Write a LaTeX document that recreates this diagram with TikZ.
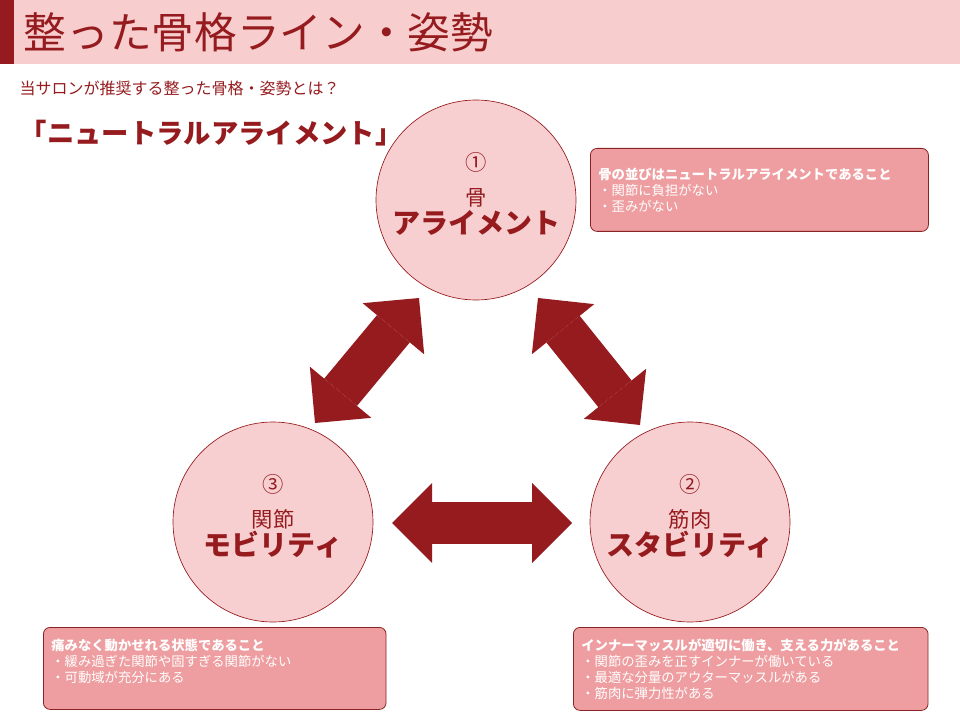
\documentclass[tikz,border=0pt]{standalone}
\usepackage{fontspec}
\setmainfont{Noto Sans CJK JP}
\usetikzlibrary{arrows.meta}
\definecolor{darkred}{HTML}{951B1E}
\definecolor{headpink}{HTML}{F8CDCE}
\definecolor{circpink}{HTML}{F8CFD0}
\definecolor{boxpink}{HTML}{EE9EA0}
\definecolor{boxline}{HTML}{8A2424}

\begin{document}
\begin{tikzpicture}[x=0.75pt,y=-0.75pt,
  circ/.style={circle,draw=darkred,line width=0.5pt,fill=circpink,minimum size=150pt,
    inner sep=0pt,align=center,text=darkred,text depth=11pt,font=\fontsize{16pt}{21pt}\selectfont},
  infobox/.style={draw=boxline,line width=0.6pt,fill=boxpink,rounded corners=5pt,
    anchor=north west,align=left,text=white,inner xsep=6pt,inner ysep=0pt,
    font=\fontsize{10pt}{12pt}\selectfont},
  bigarrow/.style={draw=darkred,line width=32pt,
    {Triangle[length=30pt,width=60pt,line width=0pt]}-{Triangle[length=30pt,width=60pt,line width=0pt]}}]
  \useasboundingbox (0,0) rectangle (960,720);
  % header
  \fill[headpink] (0,0) rectangle (960,64);
  \fill[darkred] (0,0) rectangle (14,64);
  \node[anchor=west,text=darkred,font=\fontsize{32pt}{38pt}\selectfont] (title) at (19,32) {整った骨格ライン・姿勢};
  \node[anchor=west,text=darkred,font=\fontsize{12pt}{14pt}\selectfont] (sub) at (15,88) {当サロンが推奨する整った骨格・姿勢とは？};
  \node[anchor=west,text=darkred,font=\fontsize{20.5pt}{24pt}\selectfont\bfseries] (neutral) at (15,133) {「ニュートラルアライメント」};
  % circles
  \node[circ] (bone) at (476,200) {①\\[5pt]骨\\{\fontsize{21pt}{23pt}\selectfont\bfseries アライメント}};
  \node[circ] (muscle) at (690,522) {②\\[5pt]筋肉\\{\fontsize{21pt}{23pt}\selectfont\bfseries スタビリティ}};
  \node[circ] (joint) at (273,522) {③\\[5pt]関節\\{\fontsize{21pt}{23pt}\selectfont\bfseries モビリティ}};
  % arrows
  \coordinate (a1) at (315,423);
  \coordinate (a2) at (419,298);
  \coordinate (b1) at (538,298);
  \coordinate (b2) at (640,425);
  \coordinate (c1) at (392,523);
  \coordinate (c2) at (572,523);
  \draw[bigarrow] (a1) -- (a2);
  \draw[bigarrow] (b1) -- (b2);
  \draw[bigarrow] (c1) -- (c2);
  % text boxes
  \node[infobox,text width=241.5pt,minimum height=62.25pt] (bonebox) at (590,148)
    {\textbf{骨の並びはニュートラルアライメントであること}\\・関節に負担がない\\・歪みがない};
  \node[infobox,text width=245pt,minimum height=61.5pt] (jointbox) at (43,627)
    {\textbf{痛みなく動かせれる状態であること}\\・緩み過ぎた関節や固すぎる関節がない\\・可動域が充分にある\\\mbox{}};
  \node[infobox,text width=254pt,minimum height=62.25pt] (musclebox) at (573,627)
    {\textbf{インナーマッスルが適切に働き、支える力があること}\\・関節の歪みを正すインナーが働いている\\・最適な分量のアウターマッスルがある\\・筋肉に弾力性がある};
\end{tikzpicture}
\end{document}
